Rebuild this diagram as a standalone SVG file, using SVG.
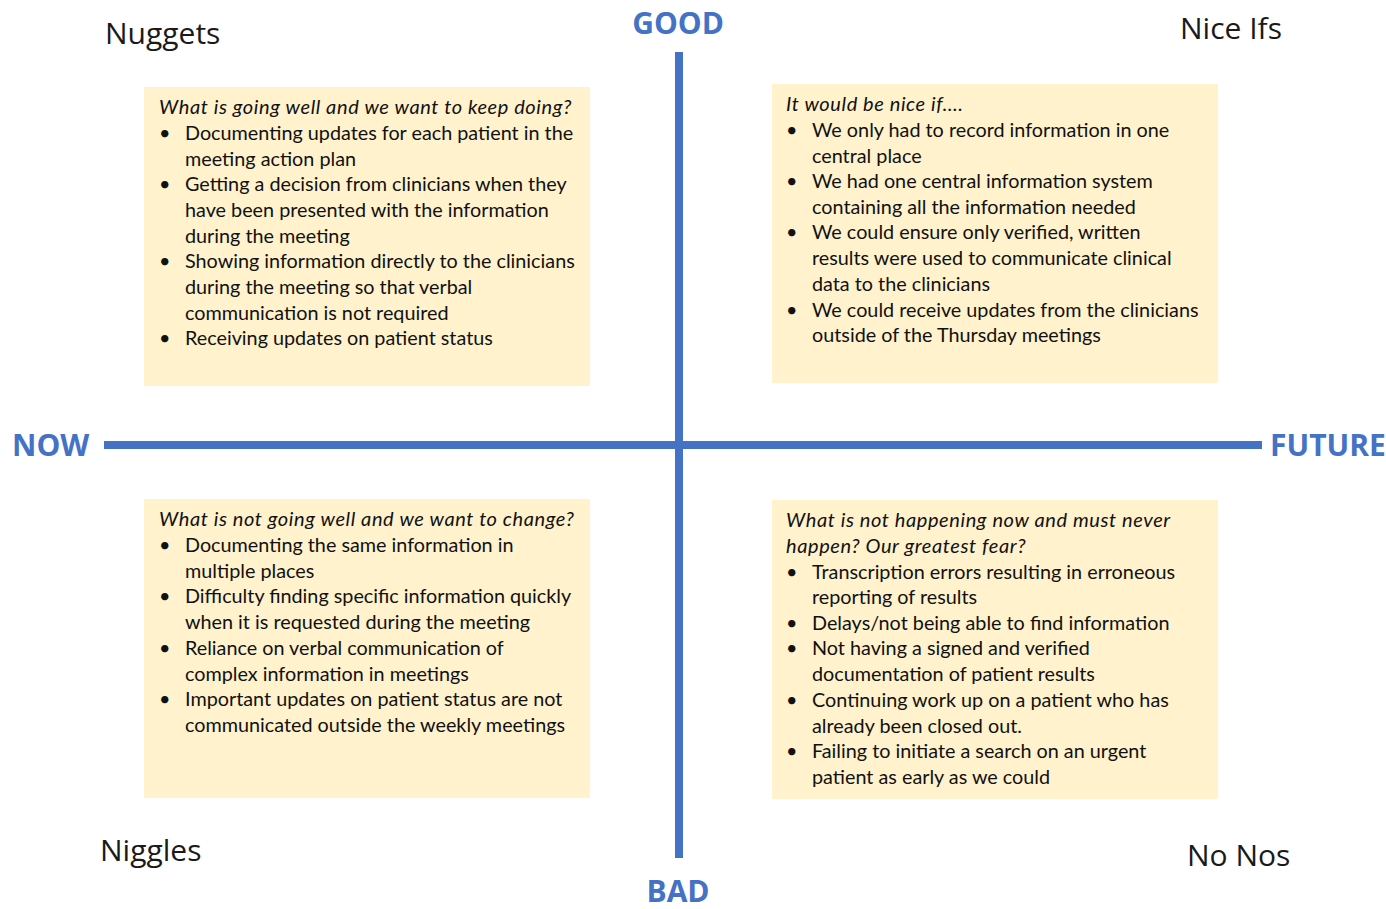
<svg xmlns="http://www.w3.org/2000/svg" width="1386" height="909" viewBox="0 0 1386 909">
  <style>
    .axis { stroke: #4472C4; stroke-width: 8; fill: none; }
    .box { fill: #FFF2CC; }
    .axlabel { font-family: "Open Sans", "Liberation Sans", sans-serif; font-weight: bold; font-size: 30px; fill: #4472C4; }
    .corner { font-family: "Comic Sans MS", "Open Sans", "DejaVu Sans", sans-serif; font-size: 30px; fill: #1a1a1a; }
    .txt { font-family: Lato, "Liberation Sans", sans-serif; font-size: 19.8px; fill: #111; }
    .head { font-style: italic; font-size: 20px; letter-spacing: 0.6px; }
  </style>

  <g id="connectors">
    <line class="axis" x1="679" y1="52" x2="679" y2="858"/>
    <line class="axis" x1="104" y1="445" x2="1262" y2="445"/>
  </g>

  <g id="axis-labels">
    <text class="axlabel" x="678" y="34" text-anchor="middle">GOOD</text>
    <text class="axlabel" x="678" y="902" text-anchor="middle">BAD</text>
    <text class="axlabel" x="12" y="456">NOW</text>
    <text class="axlabel" x="1270" y="456">FUTURE</text>
  </g>

  <g id="corner-labels">
    <text class="corner" x="105" y="44">Nuggets</text>
    <text class="corner" x="1180" y="39">Nice Ifs</text>
    <text class="corner" x="100" y="861">Niggles</text>
    <text class="corner" x="1187" y="866">No Nos</text>
  </g>

  <g id="nuggets">
    <rect class="box" x="144" y="87" width="446" height="299"/>
    <text class="txt head" x="159" y="114">What is going well and we want to keep doing?</text>
    <g class="txt">
      <text x="159" y="140">•</text><text x="185" y="140">Documenting updates for each patient in the</text>
      <text x="185" y="166">meeting action plan</text>
      <text x="159" y="191">•</text><text x="185" y="191">Getting a decision from clinicians when they</text>
      <text x="185" y="217">have been presented with the information</text>
      <text x="185" y="243">during the meeting</text>
      <text x="159" y="268">•</text><text x="185" y="268">Showing information directly to the clinicians</text>
      <text x="185" y="294">during the meeting so that verbal</text>
      <text x="185" y="320">communication is not required</text>
      <text x="159" y="345">•</text><text x="185" y="345">Receiving updates on patient status</text>
    </g>
  </g>

  <g id="nice-ifs">
    <rect class="box" x="772" y="84" width="446" height="299"/>
    <text class="txt head" x="786" y="111">It would be nice if….</text>
    <g class="txt">
      <text x="786" y="137">•</text><text x="812" y="137">We only had to record information in one</text>
      <text x="812" y="163">central place</text>
      <text x="786" y="188">•</text><text x="812" y="188">We had one central information system</text>
      <text x="812" y="214">containing all the information needed</text>
      <text x="786" y="239">•</text><text x="812" y="239">We could ensure only verified, written</text>
      <text x="812" y="265">results were used to communicate clinical</text>
      <text x="812" y="291">data to the clinicians</text>
      <text x="786" y="317">•</text><text x="812" y="317">We could receive updates from the clinicians</text>
      <text x="812" y="342">outside of the Thursday meetings</text>
    </g>
  </g>

  <g id="niggles">
    <rect class="box" x="144" y="499" width="446" height="299"/>
    <text class="txt head" x="159" y="526">What is not going well and we want to change?</text>
    <g class="txt">
      <text x="159" y="552">•</text><text x="185" y="552">Documenting the same information in</text>
      <text x="185" y="578">multiple places</text>
      <text x="159" y="603">•</text><text x="185" y="603">Difficulty finding specific information quickly</text>
      <text x="185" y="629">when it is requested during the meeting</text>
      <text x="159" y="655">•</text><text x="185" y="655">Reliance on verbal communication of</text>
      <text x="185" y="681">complex information in meetings</text>
      <text x="159" y="706">•</text><text x="185" y="706">Important updates on patient status are not</text>
      <text x="185" y="732">communicated outside the weekly meetings</text>
    </g>
  </g>

  <g id="no-nos">
    <rect class="box" x="772" y="500" width="446" height="299"/>
    <text class="txt head" x="786" y="527">What is not happening now and must never</text>
    <text class="txt head" x="786" y="553">happen? Our greatest fear?</text>
    <g class="txt">
      <text x="786" y="579">•</text><text x="812" y="579">Transcription errors resulting in erroneous</text>
      <text x="812" y="604">reporting of results</text>
      <text x="786" y="630">•</text><text x="812" y="630">Delays/not being able to find information</text>
      <text x="786" y="655">•</text><text x="812" y="655">Not having a signed and verified</text>
      <text x="812" y="681">documentation of patient results</text>
      <text x="786" y="707">•</text><text x="812" y="707">Continuing work up on a patient who has</text>
      <text x="812" y="733">already been closed out.</text>
      <text x="786" y="758">•</text><text x="812" y="758">Failing to initiate a search on an urgent</text>
      <text x="812" y="784">patient as early as we could</text>
    </g>
  </g>
</svg>
